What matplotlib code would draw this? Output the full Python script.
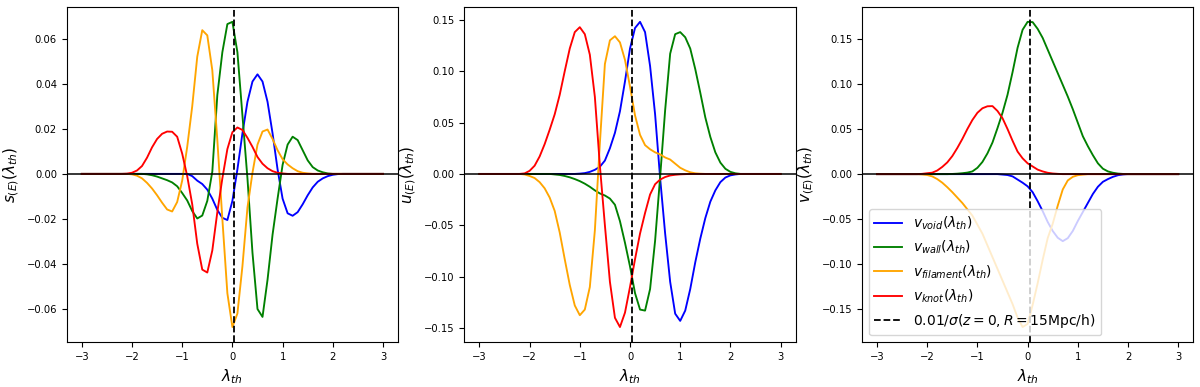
import numpy as np
import matplotlib.pyplot as plt

# lambda_th sample points (curves are flat zero outside |lambda| > 2.2)
lam = [-3.0, -2.5, -2.2, -2.1, -2.0, -1.9, -1.8, -1.7, -1.6, -1.5, -1.4, -1.3,
       -1.2, -1.1, -1.0, -0.9, -0.8, -0.7, -0.6, -0.5, -0.4, -0.3, -0.2, -0.1,
       0.0, 0.1, 0.2, 0.3, 0.4, 0.5, 0.6, 0.7, 0.8, 0.9, 1.0, 1.1, 1.2, 1.3,
       1.4, 1.5, 1.6, 1.7, 1.8, 1.9, 2.0, 2.1, 2.2, 2.5, 3.0]

# s_(E)
s_void = [0, 0, 0, 0, 0, 0, 0, 0, 0, 0, 0, 0,
          0, 0, 0, 0, -0.001, -0.003, -0.0045, -0.007, -0.011, -0.016, -0.0195, -0.0205,
          -0.012, 0.002, 0.018, 0.032, 0.041, 0.0442, 0.041, 0.032, 0.018, 0.002, -0.011, -0.0175, -0.0186, -0.017,
          -0.0135, -0.0095, -0.006, -0.0035, -0.002, -0.001, -0.0004, -0.0001, 0, 0, 0]
s_wall = [0, 0, 0, 0, 0, 0, 0, -0.0002, -0.0006, -0.0012, -0.002, -0.0028,
          -0.0038, -0.0055, -0.0085, -0.0118, -0.0165, -0.0198, -0.0185, -0.012, 0.001, 0.035, 0.054, 0.0665,
          0.0675, 0.054, 0.026, -0.002, -0.035, -0.060, -0.0635, -0.047, -0.027, -0.011, 0.004, 0.013, 0.0165, 0.015,
          0.0105, 0.006, 0.003, 0.0015, 0.0007, 0.0002, 0, 0, 0, 0, 0]
s_filament = [0, 0, 0, 0, -0.0002, -0.0008, -0.002, -0.004, -0.0065, -0.0095, -0.0128, -0.0158,
              -0.0167, -0.0125, -0.003, 0.012, 0.030, 0.052, 0.0638, 0.0615, 0.046, 0.015, -0.020, -0.053,
              -0.068, -0.062, -0.041, -0.015, 0.0005, 0.013, 0.0188, 0.0197, 0.0155, 0.0105, 0.0065, 0.0042, 0.0025, 0.0012,
              0.0005, 0.0002, 0, 0, 0, 0, 0, 0, 0, 0, 0]
s_knot = [0, 0, 0, 0.0001, 0.0005, 0.0015, 0.0035, 0.0072, 0.0118, 0.0155, 0.0178, 0.0188,
          0.0187, 0.0165, 0.009, -0.001, -0.0135, -0.031, -0.0425, -0.0438, -0.034, -0.017, -0.002, 0.011,
          0.0185, 0.0206, 0.0195, 0.016, 0.012, 0.0075, 0.0045, 0.0025, 0.0012, 0.0005, 0.0002, 0, 0, 0,
          0, 0, 0, 0, 0, 0, 0, 0, 0, 0, 0]

# u_(E)
u_void = [0, 0, 0, 0, 0, 0, 0, 0, 0, 0, 0, 0,
          0, 0, 0.0003, 0.0008, 0.002, 0.004, 0.007, 0.013, 0.025, 0.040, 0.061, 0.090,
          0.122, 0.142, 0.148, 0.138, 0.105, 0.058, -0.004, -0.058, -0.105, -0.136, -0.143, -0.133, -0.112, -0.086,
          -0.063, -0.043, -0.027, -0.016, -0.008, -0.0035, -0.0014, -0.0005, 0, 0, 0]
u_wall = [0, 0, 0, 0, 0, 0, 0, 0, 0, -0.0005, -0.001, -0.002,
          -0.0033, -0.005, -0.007, -0.0095, -0.0125, -0.016, -0.019, -0.021, -0.024, -0.030, -0.046, -0.067,
          -0.090, -0.116, -0.132, -0.133, -0.112, -0.065, -0.003, 0.062, 0.117, 0.136, 0.138, 0.133, 0.122, 0.102,
          0.079, 0.055, 0.036, 0.021, 0.011, 0.005, 0.002, 0.0006, 0, 0, 0]
u_filament = [0, 0, 0, -0.0005, -0.002, -0.004, -0.008, -0.014, -0.023, -0.036, -0.057, -0.083,
              -0.108, -0.128, -0.1375, -0.132, -0.110, -0.055, 0.030, 0.107, 0.130, 0.134, 0.128, 0.111,
              0.085, 0.057, 0.038, 0.028, 0.024, 0.021, 0.019, 0.016, 0.014, 0.010, 0.006, 0.0035, 0.0016, 0.0006,
              0.0002, 0, 0, 0, 0, 0, 0, 0, 0, 0, 0]
u_knot = [0, 0, 0, 0.0005, 0.003, 0.008, 0.017, 0.029, 0.043, 0.058, 0.077, 0.100,
          0.122, 0.138, 0.1428, 0.136, 0.116, 0.075, 0.008, -0.050, -0.105, -0.140, -0.149, -0.135,
          -0.110, -0.083, -0.058, -0.038, -0.020, -0.010, -0.0055, -0.003, -0.0015, -0.0008, -0.0004, -0.0002, 0, 0,
          0, 0, 0, 0, 0, 0, 0, 0, 0, 0, 0]

# v_(E)
v_void = [0, 0, 0, 0, 0, 0, 0, 0, 0, 0, 0, 0,
          0, 0, 0, 0, 0, 0, 0, -0.0005, -0.001, -0.0025, -0.006, -0.0095,
          -0.0135, -0.020, -0.030, -0.041, -0.053, -0.063, -0.0705, -0.0743, -0.071, -0.063, -0.052, -0.042, -0.032, -0.022,
          -0.014, -0.0085, -0.0055, -0.003, -0.0012, -0.0004, 0, 0, 0, 0, 0]
v_wall = [0, 0, 0, 0, 0, 0, 0, 0, 0, 0.0002, 0.0005, 0.001,
          0.0017, 0.003, 0.007, 0.0135, 0.023, 0.035, 0.051, 0.068, 0.088, 0.113, 0.140, 0.160,
          0.1688, 0.1685, 0.161, 0.151, 0.138, 0.125, 0.112, 0.099, 0.086, 0.072, 0.057, 0.042, 0.031, 0.021,
          0.012, 0.006, 0.003, 0.0015, 0.0006, 0.0002, 0, 0, 0, 0, 0]
v_filament = [0, 0, 0, -0.0003, -0.001, -0.0025, -0.0055, -0.0095, -0.0145, -0.020, -0.026, -0.032,
              -0.039, -0.046, -0.056, -0.066, -0.079, -0.092, -0.105, -0.118, -0.131, -0.144, -0.159, -0.1695,
              -0.166, -0.145, -0.121, -0.095, -0.071, -0.055, -0.035, -0.017, -0.007, -0.003, -0.0012, -0.0005, 0, 0,
              0, 0, 0, 0, 0, 0, 0, 0, 0, 0, 0]
v_knot = [0, 0, 0, 0.0003, 0.001, 0.0016, 0.004, 0.008, 0.013, 0.020, 0.029, 0.039,
          0.050, 0.060, 0.068, 0.073, 0.0752, 0.0754, 0.070, 0.062, 0.050, 0.037, 0.025, 0.0175,
          0.012, 0.0085, 0.005, 0.003, 0.0015, 0.0007, 0.0003, 0, 0, 0, 0, 0, 0, 0,
          0, 0, 0, 0, 0, 0, 0, 0, 0, 0, 0]

lam_cut = 0.04  # 0.01/sigma(z=0, R=15 Mpc/h)

panels = [
    ('s', [s_void, s_wall, s_filament, s_knot]),
    ('u', [u_void, u_wall, u_filament, u_knot]),
    ('v', [v_void, v_wall, v_filament, v_knot]),
]
names = ['void', 'wall', 'filament', 'knot']
colors = ['blue', 'green', 'orange', 'red']

fig, axes = plt.subplots(1, 3, figsize=(12, 3.87), dpi=100)
fig.subplots_adjust(left=0.0556, right=0.9944, top=0.983, bottom=0.1155, wspace=0.2)

for ax, (sym, series) in zip(axes, panels):
    for y, name, c in zip(series, names, colors):
        ax.plot(lam, y, color=c, lw=1.35, solid_joinstyle='round',
                label=r'$%s_{%s}(\lambda_{th})$' % (sym, name))
    ax.axhline(0, color='k', lw=1.1)
    ax.axvline(lam_cut, color='k', ls='--', lw=1.3,
               label=r'$0.01/\sigma(z=0,R=15\mathrm{Mpc/h})$')
    ax.set_xlabel(r'$\lambda_{th}$', fontsize=11)
    ax.set_ylabel(r'$%s_{(E)}(\lambda_{th})$' % sym, fontsize=11)
    ax.tick_params(labelsize=7.2)
    ax.set_xticks([-3, -2, -1, 0, 1, 2, 3])

axes[2].legend(loc='lower left', fontsize=10)

plt.savefig('out.png')
